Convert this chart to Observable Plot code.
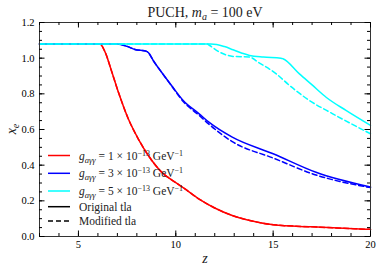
<!DOCTYPE html>
<html><head><meta charset="utf-8">
<script src="https://cdn.jsdelivr.net/npm/d3@7"></script>
<script src="https://cdn.jsdelivr.net/npm/@observablehq/plot@0.6"></script>
<style>body{margin:0;background:#fff}</style>
</head><body><div id="chart"></div><script>
// ---- data ----
const zRed  = [3, 6.1, 6.37, 6.72, 7.05, 7.56, 8.07, 8.59, 9.27, 9.96, 10.47, 11.2, 12.0, 12.9, 13.8, 15.0, 17.0, 20.0];
const xeRed = [1.08, 1.08, 1.034, 0.921, 0.81, 0.66, 0.548, 0.454, 0.361, 0.305, 0.267, 0.21, 0.16, 0.118, 0.09, 0.066, 0.054, 0.04];

const zBlue       = [3, 7.0, 7.5, 7.9, 8.5, 8.6, 8.84, 9.27, 9.78, 10.38, 11.2, 11.7, 12.9, 15.0, 17.2, 20.0];
const xeBlueOrig  = [1.08, 1.08, 1.066, 1.049, 1.038, 1.03, 0.987, 0.921, 0.847, 0.763, 0.688, 0.641, 0.557, 0.464, 0.36, 0.277];
const xeBlueMod   = [1.08, 1.08, 1.066, 1.049, 1.038, 1.03, 0.987, 0.921, 0.845, 0.757, 0.679, 0.630, 0.532, 0.440, 0.345, 0.274];

const zCyanOrig  = [3, 11.8, 12.1, 12.5, 12.94, 13.4, 13.79, 14.5, 15.4, 15.5, 16.35, 17.0, 17.72, 18.74, 20.0];
const xeCyanOrig = [1.08, 1.08, 1.077, 1.065, 1.047, 1.028, 1.015, 1.006, 1.0, 0.997, 0.912, 0.85, 0.781, 0.707, 0.623];
const zCyanMod   = [3, 11.6, 11.74, 12.25, 12.94, 13.79, 14.22, 15.16, 15.84, 16.86, 18.06, 20.0];
const xeCyanMod  = [1.08, 1.08, 1.071, 1.034, 1.01, 1.006, 0.978, 0.912, 0.847, 0.763, 0.688, 0.576];

const couplingLabels = ["1", "3", "5"];
const seriesColors = ["#ff0000", "#0000ff", "#00ffff"];
const xMajor = [5, 10, 15, 20];
const xMinor = d3.range(3, 21, 1);
const yMajor = [0, 0.2, 0.4, 0.6, 0.8, 1.0, 1.2];
const yMinor = d3.range(0, 1.2001, 0.05);

const W = 382, H = 273, mL = 39, mR = 12, mT = 22, mB = 37;
const fw = W - mL - mR, fh = H - mT - mB;
const xDom = [3, 20], yDom = [0, 1.2];

const pts = (zs, ys) => zs.map((z, i) => ({z, xe: ys[i]}));
const lineOpts = (color, dashed) => ({x: "z", y: "xe", stroke: color, strokeWidth: 1.5, curve: "monotone-x",
  strokeDasharray: dashed ? "5,3" : null});
const fmt = d => d3.format(".1f")(d);

// inward tick lengths (px) converted to data units of each scale
const zPerPx = (xDom[1] - xDom[0]) / fw, yPerPx = (yDom[1] - yDom[0]) / fh;
const tk = {stroke: "black", strokeWidth: 1};
const ticksX = (vals, len) => [
  Plot.ruleX(vals, {x: d => d, y1: yDom[0], y2: yDom[0] + len * yPerPx, ...tk}),
  Plot.ruleX(vals, {x: d => d, y1: yDom[1], y2: yDom[1] - len * yPerPx, ...tk})
];
const ticksY = (vals, len) => [
  Plot.ruleY(vals, {y: d => d, x1: xDom[0], x2: xDom[0] + len * zPerPx, ...tk}),
  Plot.ruleY(vals, {y: d => d, x1: xDom[1], x2: xDom[1] - len * zPerPx, ...tk})
];

const plot = Plot.plot({
  width: W, height: H,
  marginLeft: mL, marginRight: mR, marginTop: mT, marginBottom: mB,
  style: {fontFamily: "Liberation Serif", fontSize: "10.5px", background: "white"},
  x: {domain: xDom},
  y: {domain: yDom},
  marks: [
    Plot.line(pts(zRed, xeRed), lineOpts(seriesColors[0], true)),
    Plot.line(pts(zRed, xeRed), lineOpts(seriesColors[0], false)),
    Plot.line(pts(zBlue, xeBlueOrig), lineOpts(seriesColors[1], false)),
    Plot.line(pts(zBlue, xeBlueMod), lineOpts(seriesColors[1], true)),
    Plot.line(pts(zCyanOrig, xeCyanOrig), lineOpts(seriesColors[2], false)),
    Plot.line(pts(zCyanMod, xeCyanMod), lineOpts(seriesColors[2], true)),
    Plot.axisX({ticks: xMajor, tickSize: 0, tickPadding: 4, label: null}),
    Plot.axisY({ticks: yMajor, tickSize: 0, tickPadding: 5, tickFormat: fmt, label: null}),
    Plot.frame({stroke: "#333", strokeWidth: 1}),
    ...ticksX(xMinor, 3), ...ticksX(xMajor, 5.5),
    ...ticksY(yMinor, 3), ...ticksY(yMajor, 5.5)
  ]
});
document.getElementById("chart").appendChild(plot);

const svg = d3.select(plot);
const font = "Liberation Serif, serif";

// title
const t = svg.append("text").attr("x", 205).attr("y", 17).attr("text-anchor", "middle")
  .attr("font-family", font).attr("font-size", 14).attr("fill", "#222");
t.append("tspan").text("PUCH, ");
t.append("tspan").attr("font-style", "italic").text("m");
t.append("tspan").attr("font-style", "italic").attr("font-size", 10).attr("dy", 3).text("a");
t.append("tspan").attr("dy", -3).text(" = 100 eV");
// x label
svg.append("text").attr("x", 205).attr("y", 263).attr("text-anchor", "middle")
  .attr("font-family", font).attr("font-size", 14).attr("font-style", "italic").attr("fill", "#222").text("z");
// y label
const yl = svg.append("text").attr("transform", "translate(16,129) rotate(-90)").attr("text-anchor", "middle")
  .attr("font-family", font).attr("font-size", 14).attr("fill", "#222");
yl.append("tspan").attr("font-style", "italic").text("x");
yl.append("tspan").attr("font-style", "italic").attr("font-size", 10).attr("dy", 3).text("e");

// legend
const lg = svg.append("g").attr("font-family", font).attr("font-size", 11.5).attr("fill", "#222")
  .attr("text-anchor", "start");
const rows = [155.5, 173.3, 191, 206.7, 221];
couplingLabels.forEach((c, i) => {
  lg.append("line").attr("x1", 48).attr("x2", 70).attr("y1", rows[i]).attr("y2", rows[i])
    .attr("stroke", seriesColors[i]).attr("stroke-width", 1.5);
  const tx = lg.append("text").attr("x", 79).attr("y", rows[i] + 4).attr("text-anchor", "start");
  tx.append("tspan").attr("font-style", "italic").text("g");
  tx.append("tspan").attr("font-style", "italic").attr("font-size", 8.5).attr("dy", 3).text("aγγ");
  tx.append("tspan").attr("dy", -3).text(` = ${c} × 10`);
  tx.append("tspan").attr("font-size", 8).attr("dy", -4).text("−13");
  tx.append("tspan").attr("dy", 4).text(" GeV");
  tx.append("tspan").attr("font-size", 8).attr("dy", -4).text("−1");
});
[["Original tla", null], ["Modified tla", "5,3"]].forEach(([name, dash], j) => {
  const y = rows[3 + j];
  lg.append("line").attr("x1", 48).attr("x2", 70).attr("y1", y).attr("y2", y)
    .attr("stroke", "#000").attr("stroke-width", 1.5).attr("stroke-dasharray", dash);
  lg.append("text").attr("x", 79).attr("y", y + 4).attr("text-anchor", "start").text(name);
});
</script></body></html>
